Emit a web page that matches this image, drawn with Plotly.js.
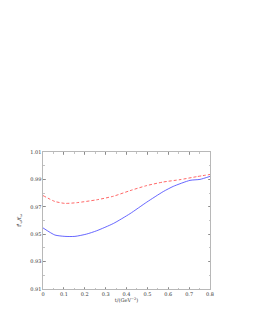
<!DOCTYPE html>
<html><head><meta charset="utf-8">
<script src="https://cdn.plot.ly/plotly-3.0.1.min.js"></script>
<style>html,body{margin:0;padding:0;background:#fff}#c{width:253px;height:327px}</style>
</head><body><div id="c"></div>
<script>
const tRed = [0.0, 0.057, 0.105, 0.161, 0.257, 0.337, 0.417, 0.497, 0.576, 0.656, 0.736, 0.8];
const fRed = [0.9782, 0.9739, 0.9725, 0.9730, 0.9751, 0.9777, 0.9818, 0.9855, 0.9881, 0.9898, 0.9920, 0.9936];
const tBlue = [0.0, 0.057, 0.105, 0.153, 0.209, 0.257, 0.337, 0.417, 0.497, 0.576, 0.624, 0.704, 0.752, 0.8];
const fBlue = [0.9546, 0.9494, 0.9484, 0.9484, 0.9501, 0.9525, 0.9578, 0.9650, 0.9734, 0.9811, 0.9849, 0.9893, 0.9900, 0.9922];
const xTicks = [0, 0.1, 0.2, 0.3, 0.4, 0.5, 0.6, 0.7, 0.8];
const yTicks = [0.91, 0.93, 0.95, 0.97, 0.99, 1.01];

const traces = [
  {x: tRed, y: fRed, mode: 'lines', line: {color: '#ff4040', width: 0.8, dash: '3px,2px', shape: 'spline', smoothing: 0.6}, hoverinfo: 'skip'},
  {x: tBlue, y: fBlue, mode: 'lines', line: {color: '#4040ff', width: 0.8, shape: 'spline', smoothing: 0.6}, hoverinfo: 'skip'}
];
const ax = {
  showgrid: false, zeroline: false, showline: true, linecolor: '#888', linewidth: 0.6, mirror: 'ticks',
  ticks: 'inside', ticklen: 2.5, tickcolor: '#666', tickwidth: 0.6,
  tickfont: {family: 'DejaVu Serif, serif', size: 5, color: '#333'},
  minor: {ticks: 'inside', ticklen: 1.5, tickcolor: '#888', tickwidth: 0.5}
};
const layout = {
  width: 253, height: 327, showlegend: false,
  paper_bgcolor: '#fff', plot_bgcolor: '#fff',
  margin: {l: 43, r: 43, t: 151.5, b: 38},
  xaxis: Object.assign({}, ax, {range: [0, 0.8], tickvals: xTicks, ticktext: xTicks.map(String),
    minor: Object.assign({}, ax.minor, {dtick: 0.05}),
    title: {text: 't/(GeV<sup>−2</sup>)', font: {family: 'DejaVu Serif, serif', size: 5, color: '#333'}, standoff: 2}}),
  yaxis: Object.assign({}, ax, {range: [0.91, 1.01], tickvals: yTicks, ticktext: yTicks.map(v => v.toFixed(2)),
    minor: Object.assign({}, ax.minor, {dtick: 0.01, tick0: 0.91}),
    title: {text: 'f<sup>t</sup><sub>ω</sub>/f<sub>ω</sub>', font: {family: 'DejaVu Serif, serif', size: 5, color: '#333'}, standoff: 8}})
};
Plotly.newPlot('c', traces, layout, {staticPlot: true, displayModeBar: false});
</script></body></html>
